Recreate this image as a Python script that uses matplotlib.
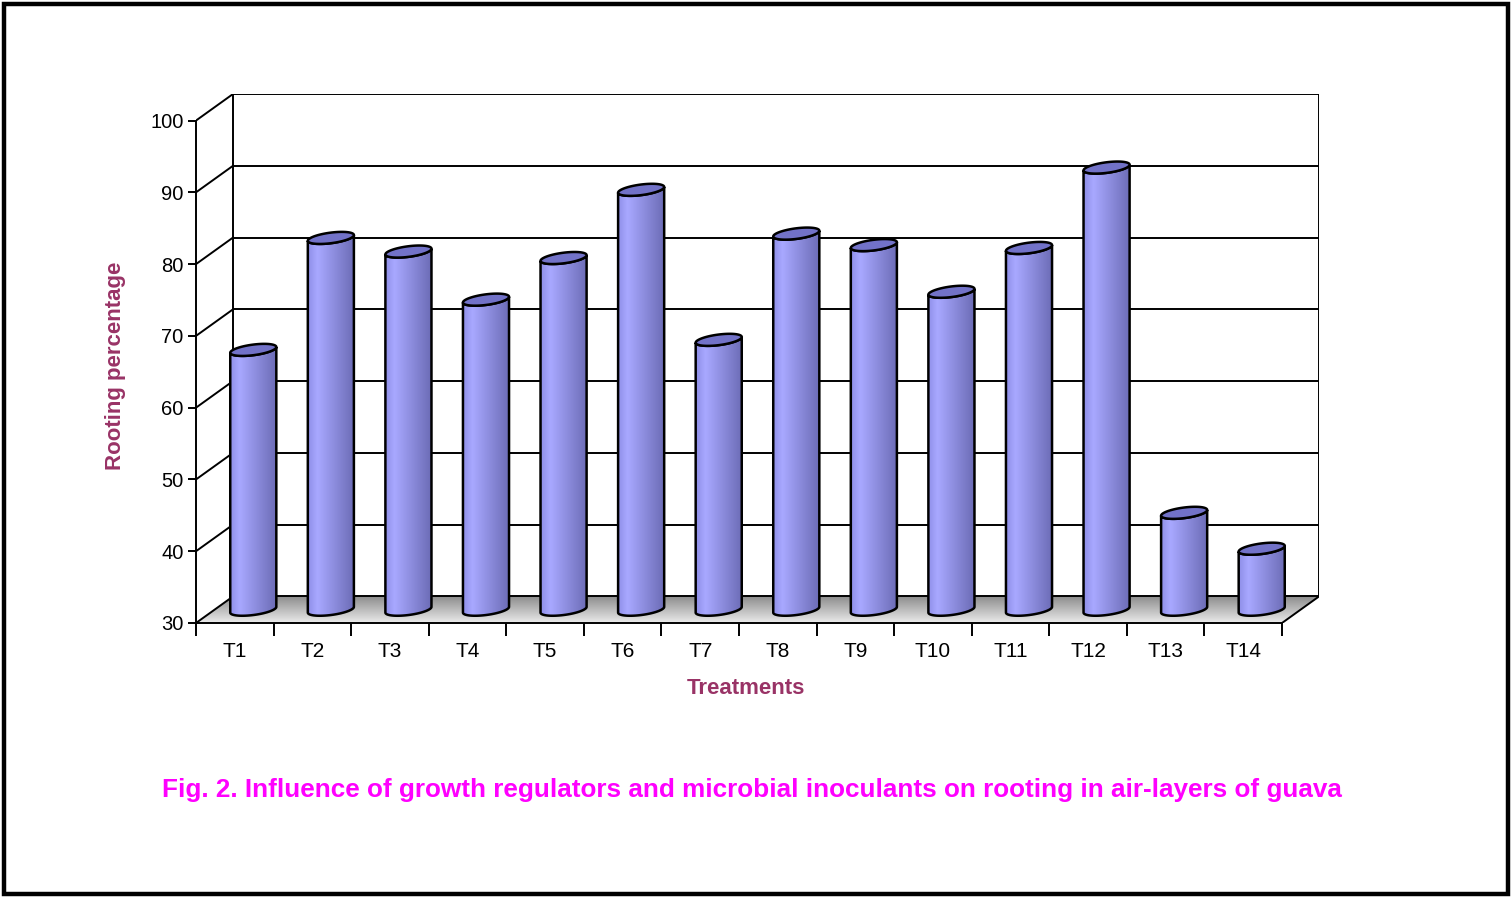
import numpy as np
import matplotlib
matplotlib.use("Agg")
import matplotlib.pyplot as plt
from matplotlib.patches import Polygon, Rectangle

plt.rcParams['font.family'] = ['Liberation Sans', 'DejaVu Sans']

treatments = ['T1', 'T2', 'T3', 'T4', 'T5', 'T6', 'T7',
              'T8', 'T9', 'T10', 'T11', 'T12', 'T13', 'T14']
rooting = [66.2, 81.8, 79.9, 73.2, 79.0, 88.5, 67.6,
           82.4, 80.8, 74.3, 80.4, 91.6, 43.5, 38.5]
yticks = [30, 40, 50, 60, 70, 80, 90, 100]

ymin, ymax = 30, 100
n = len(treatments)
DX, DY = 0.477, 3.7          # oblique depth offset (category units, value units)
A = 0.297                    # cylinder half width
B = 0.74                     # ellipse half height
S = 0.40                     # ellipse tilt

fig = plt.figure(figsize=(15.12, 8.98), dpi=100)
ax = fig.add_axes([196 / 1512, 1 - 623 / 898, (1319 - 196) / 1512, (623 - 94) / 898])
ax.set_xlim(0, n + DX)
ax.set_ylim(ymin, ymax + DY)
ax.patch.set_visible(False)

# floor with gradient
floor = np.array([[0, ymin], [n, ymin], [n + DX, ymin + DY], [DX, ymin + DY]])
fpoly = Polygon(floor, closed=True, facecolor='none', edgecolor='none')
ax.add_patch(fpoly)
grad = np.linspace(0.92, 0.55, 64)[:, None] * np.ones((1, 2))
im = ax.imshow(grad, cmap='gray', vmin=0, vmax=1, extent=[0, n + DX, ymin, ymin + DY],
               origin='lower', aspect='auto', zorder=1)
im.set_clip_path(fpoly)

# back wall gridlines and left wall diagonals
for v in yticks:
    ax.plot([DX, n + DX], [v + DY, v + DY], color='black', lw=1.4, zorder=2)
    ax.plot([0, DX], [v, v + DY], color='black', lw=1.4, zorder=2)
ax.plot([DX, DX], [ymin + DY, ymax + DY], color='black', lw=1.4, zorder=2)
ax.plot([n + DX, n + DX], [ymin + DY, ymax + DY], color='black', lw=1.4, zorder=2)
ax.plot([n, n + DX], [ymin, ymin + DY], color='black', lw=1.4, zorder=2)

# cylinders
light = np.array([0.66, 0.66, 1.0])
mid = np.array([0.56, 0.56, 0.91])
dark = np.array([0.42, 0.42, 0.71])
u = np.linspace(0, 1, 120)
cols = np.empty((1, len(u), 3))
for k, t in enumerate(u):
    if t < 0.2:
        cols[0, k] = mid + (light - mid) * (t / 0.2)
    else:
        cols[0, k] = light + (dark - light) * ((t - 0.2) / 0.8)

t_low = np.linspace(np.pi, 2 * np.pi, 60)
t_all = np.linspace(0, 2 * np.pi, 120)
for i, v in enumerate(rooting):
    xc = i + 0.5 + DX / 2
    yb = ymin + DY / 2
    yt = v + DY / 2
    top_lo_x = xc + A * np.cos(t_low)
    top_lo_y = yt + B * np.sin(t_low) + S * np.cos(t_low)
    bot_lo_x = xc + A * np.cos(t_low)
    bot_lo_y = yb + B * np.sin(t_low) + S * np.cos(t_low)
    body = np.vstack([
        np.column_stack([top_lo_x, top_lo_y]),
        np.column_stack([bot_lo_x[::-1], bot_lo_y[::-1]]),
    ])
    bpoly = Polygon(body, closed=True, facecolor='none', edgecolor='black',
                    lw=1.8, zorder=5)
    ax.add_patch(bpoly)
    bim = ax.imshow(cols, extent=[xc - A, xc + A, yb - B - S, yt + B + S],
                    aspect='auto', zorder=4)
    bim.set_clip_path(bpoly)
    top = np.column_stack([xc + A * np.cos(t_all),
                           yt + B * np.sin(t_all) + S * np.cos(t_all)])
    ax.add_patch(Polygon(top, closed=True, facecolor='#7272c8', edgecolor='black',
                         lw=1.8, zorder=6))

# front axes
for side in ['top', 'right']:
    ax.spines[side].set_visible(False)
ax.spines['left'].set_bounds(ymin, ymax)
ax.spines['bottom'].set_bounds(0, n)
ax.spines['left'].set_linewidth(1.4)
ax.spines['bottom'].set_linewidth(1.4)
ax.set_yticks(yticks)
ax.set_yticklabels([str(v) for v in yticks], fontsize=14.5)
ax.set_xticks(np.arange(n + 1))
ax.set_xticklabels([])
ax.set_xticks(np.arange(n) + 0.5, minor=True)
ax.set_xticklabels(treatments, minor=True, fontsize=15)
ax.tick_params(axis='y', length=6, width=1.4, pad=3)
ax.tick_params(axis='x', which='major', length=9, width=1.4)
ax.tick_params(axis='x', which='minor', length=0, pad=14)

fig.text(116 / 1512, 1 - 366 / 898, 'Rooting percentage', rotation=90, color='#993366',
         fontsize=16, fontweight='bold', ha='center', va='center')
fig.text(746 / 1512, 1 - 688 / 898, 'Treatments', color='#993366',
         fontsize=16, fontweight='bold', ha='center', va='center')
fig.text(752 / 1512, 1 - 790 / 898,
         'Fig. 2. Influence of growth regulators and microbial inoculants on rooting in air-layers of guava',
         color='#ff00ff', fontsize=18.8, fontweight='bold', ha='center', va='center')

fig.patches.append(Rectangle((0.0025, 0.004), 0.995, 0.992, transform=fig.transFigure,
                             fill=False, edgecolor='black', lw=3.2))

fig.savefig('out.png', dpi=100)
